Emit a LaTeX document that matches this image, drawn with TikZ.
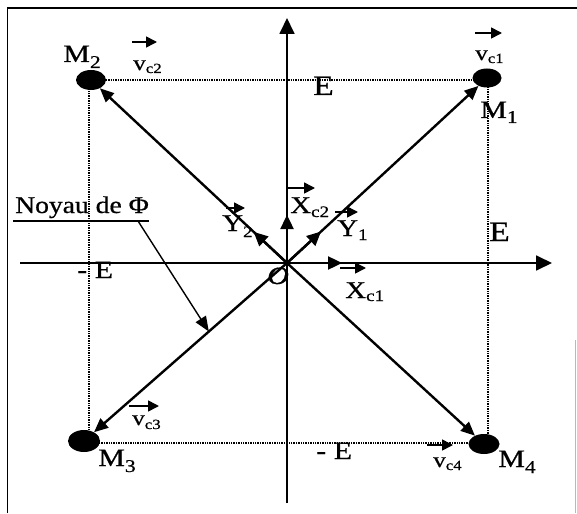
\documentclass[tikz,border=0pt]{standalone}
\usepackage{fontspec}
\setmainfont{Liberation Serif}[FakeBold=0.6]
\usetikzlibrary{arrows.meta,calc,shapes.geometric}
\newcommand{\lowsub}[3]{\raisebox{-#1pt}{\fontsize{#2}{#2}\selectfont #3}}
\begin{document}
\begin{tikzpicture}[x=1pt,y=-1pt,
  lbl/.style={inner sep=0pt, anchor=base west, xscale=1.2},
  msz/.style={font=\fontsize{25}{27}\selectfont},
  vsz/.style={font=\fontsize{21}{23}\selectfont},
  esz/.style={font=\fontsize{28}{30}\selectfont},
  esm/.style={font=\fontsize{25}{27}\selectfont},
  xsz/.style={font=\fontsize{24}{26}\selectfont},
  dot/.style={shape=ellipse, fill=black, draw=none, inner sep=0pt},
  diag/.style={line width=2.4pt, -{Triangle[length=14pt,width=12pt]}},
  axis/.style={line width=1.8pt, -{Triangle[length=16pt,width=15pt]}},
  midarr/.style={line width=2.4pt, -{Triangle[length=14pt,width=13pt]}},
  vec/.style={line width=1.6pt, -{Triangle[length=11pt,width=11pt]}},
  dotline/.style={line width=1.4pt, densely dotted},
  frame/.style={line width=1.6pt}]
\useasboundingbox (0,0) rectangle (577,513);
% frame
\coordinate (F1) at (7.5,513);
\coordinate (F2) at (7.5,8);
\coordinate (F3) at (577,8);
\draw[frame] (F1) -- (F2) -- (F3);
\coordinate (F4) at (575.5,340);
\coordinate (F5) at (575.5,513);
\draw[gray!55, line width=1pt] (F4) -- (F5);
% dotted rectangle
\coordinate (R2) at (89,80);
\coordinate (R1) at (488,80);
\coordinate (R4) at (488,443);
\coordinate (R3) at (89,443);
\draw[dotline] (R2) -- (R1) -- (R4) -- (R3) -- cycle;
% axes
\coordinate (O) at (287,263);
\coordinate (xL) at (20,263);
\coordinate (xR) at (552,263);
\coordinate (yB) at (287,503);
\coordinate (yT) at (287,18);
\draw[axis] (xL) -- (xR);
\draw[axis] (yB) -- (yT);
% dots
\node[dot, minimum width=30pt, minimum height=20pt] (M2) at (91,80) {};
\node[dot, minimum width=29pt, minimum height=19pt] (M1) at (487,78) {};
\node[dot, minimum width=32pt, minimum height=22pt] (M3) at (84,441) {};
\node[dot, minimum width=31pt, minimum height=20pt] (M4) at (484,444) {};
% diagonals
\draw[diag] (O) -- (M1);
\draw[diag] (O) -- (M2);
\draw[diag] (O) -- (M3);
\draw[diag] (O) -- (M4);
% mid arrows
\draw[midarr] (O) -- ($(O)!0.17!(M1)$);
\draw[midarr] (O) -- ($(O)!0.17!(M2)$);
\draw[midarr] (O) -- ++(0,-48);
\draw[midarr] (O) -- ++(55,0);
% labels
\node[lbl,msz] (lM2) at (63,62) {M\lowsub{6}{18}{2}};
\node[lbl,msz] (lM1) at (480,118) {M\lowsub{5}{18}{1}};
\node[lbl,msz] (lM3) at (98,466) {M\lowsub{6}{18}{3}};
\node[lbl,msz] (lM4) at (498,467) {M\lowsub{6}{18}{4}};
\node[lbl,vsz] (lv2) at (133,70) {v\lowsub{3}{14}{c2}};
\node[lbl,vsz] (lv1) at (475,60) {v\lowsub{3}{14}{c1}};
\node[lbl,vsz] (lv3) at (132,425) {v\lowsub{4}{14}{c3}};
\node[lbl,vsz] (lv4) at (433,467) {v\lowsub{3}{14}{c4}};
\draw[vec] ($(lv2.base west)+(-1,-28)$) -- ++(25,0);
\draw[vec] ($(lv1.base west)+(0,-27)$) -- ++(27,0);
\draw[vec] ($(lv3.base west)+(-3,-19)$) -- ++(30,0);
\draw[vec] ($(lv4.base west)+(-6,-22)$) -- ++(26,0);
\node[lbl,esz] (eT) at (313,95) {E};
\node[lbl,esz] (eR) at (489,241) {E};
\node[lbl,esm] (eL) at (77,278) {- E};
\node[lbl,esm] (eB) at (316,459) {- E};
\node[lbl,xsz] (lY2) at (222,231) {Y\lowsub{6}{16}{2}};
\node[lbl,xsz] (lX2) at (290,213) {X\lowsub{4}{16}{c2}};
\node[lbl,xsz] (lY1) at (337,236) {Y\lowsub{4}{16}{1}};
\node[lbl,xsz] (lX1) at (345,298) {X\lowsub{3}{16}{c1}};
\draw[vec] ($(lY2.base west)+(4,-23)$) -- ++(19,0);
\draw[vec] ($(lX2.base west)+(-2,-25)$) -- ++(27,0);
\draw[vec] ($(lY1.base west)+(-2,-24)$) -- ++(23,0);
\draw[vec] ($(lX1.base west)+(-5,-30)$) -- ++(26,0);
\node[lbl,font=\fontsize{25}{27}\selectfont\itshape] (lO) at (267,284) {O};
\node[inner sep=0pt, anchor=base west, xscale=1.15, font=\fontsize{24}{26}\selectfont] (noy) at (15,213) {Noyau de Φ};
\draw[line width=1.4pt] ($(noy.base west)+(-2,8)$) -- ($(noy.base east)+(0,8)$);
\coordinate (ptrS) at (138,221);
\draw[line width=1.4pt, -{Triangle[length=15pt,width=12pt]}] (ptrS) -- ($(O)!0.385!(M3)$);
\end{tikzpicture}
\end{document}
